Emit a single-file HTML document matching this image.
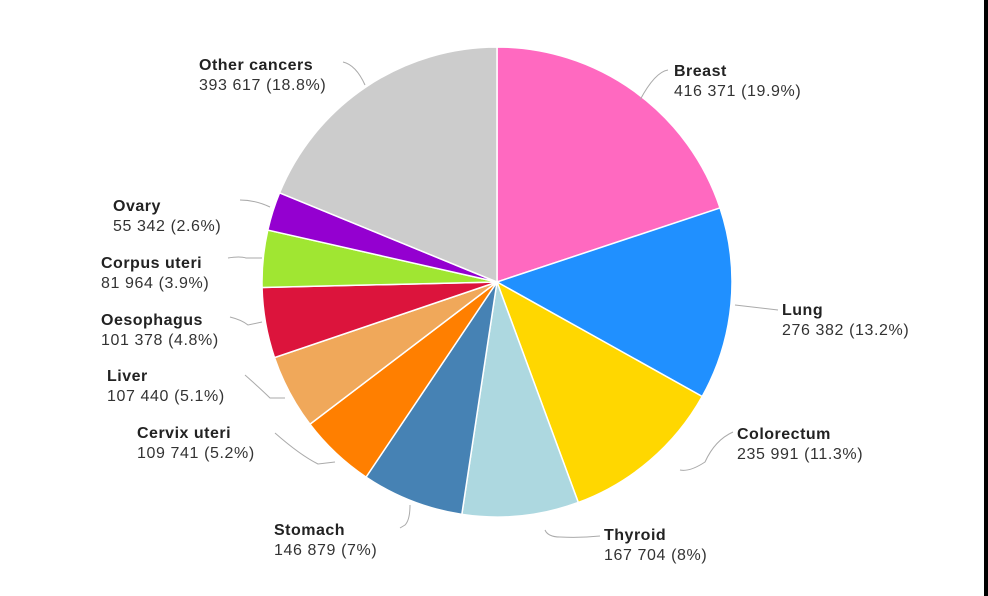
<!DOCTYPE html><html><head><meta charset="utf-8"><style>body{margin:0;background:#fff}svg{display:block}text{font-family:"Liberation Sans",sans-serif;font-size:16px;letter-spacing:0.6px;fill:#333}.b{font-weight:bold;fill:#222;letter-spacing:0.5px}</style></head><body>
<svg id="s" width="988" height="596" viewBox="0 0 988 596">
<rect x="0" y="0" width="988" height="596" fill="#fff"/>
<rect x="984" y="0" width="4" height="596" fill="#000"/>
<g id="p"></g>
<g fill="none" stroke="#aaa" stroke-width="1">
<path d="M668,70 Q655,72 640,100"/>
<path d="M778,310 L735,305"/>
<path d="M733,432 Q715,440 705,462 Q690,472 680,470"/>
<path d="M600,536 Q580,538 560,537 Q548,537 545,530"/>
<path d="M400,528 L405,525 Q410,520 410,505"/>
<path d="M275,433 Q300,455 318,464 L335,462"/>
<path d="M245,375 Q262,390 270,398 L285,398"/>
<path d="M230,317 Q242,320 248,325 L262,322"/>
<path d="M228,258 Q240,256 246,258 L262,258"/>
<path d="M240,200 Q255,200 270,207"/>
<path d="M343,62 Q356,65 365,85"/>
</g>
<text x="674" y="76" class="b">Breast</text><text x="674" y="96">416 371 (19.9%)</text>
<text x="782" y="315" class="b">Lung</text><text x="782" y="335">276 382 (13.2%)</text>
<text x="737" y="439" class="b">Colorectum</text><text x="737" y="459">235 991 (11.3%)</text>
<text x="604" y="540" class="b">Thyroid</text><text x="604" y="560">167 704 (8%)</text>
<text x="274" y="535" class="b">Stomach</text><text x="274" y="555">146 879 (7%)</text>
<text x="137" y="438" class="b">Cervix uteri</text><text x="137" y="458">109 741 (5.2%)</text>
<text x="107" y="381" class="b">Liver</text><text x="107" y="401">107 440 (5.1%)</text>
<text x="101" y="325" class="b">Oesophagus</text><text x="101" y="345">101 378 (4.8%)</text>
<text x="101" y="268" class="b">Corpus uteri</text><text x="101" y="288">81 964 (3.9%)</text>
<text x="113" y="211" class="b">Ovary</text><text x="113" y="231">55 342 (2.6%)</text>
<text x="199" y="70" class="b">Other cancers</text><text x="199" y="90">393 617 (18.8%)</text>
</svg>
<script>
var d=[[416371,"#ff69c0"],[276382,"#2090ff"],[235991,"#ffd700"],[167704,"#add8e0"],[146879,"#4682b4"],[109741,"#ff7f00"],[107440,"#f0a85a"],[101378,"#dc143c"],[81964,"#a0e632"],[55342,"#9400d0"],[393617,"#cccccc"]];
var t=0;d.forEach(function(x){t+=x[0]});var cx=497,cy=282,r=235,a=0,h="";
d.forEach(function(x){var a1=a+x[0]/t*2*Math.PI;var x0=cx+r*Math.sin(a),y0=cy-r*Math.cos(a),x1=cx+r*Math.sin(a1),y1=cy-r*Math.cos(a1);
h+='<path d="M'+cx+','+cy+' L'+x0+','+y0+' A'+r+','+r+' 0 '+(a1-a>Math.PI?1:0)+',1 '+x1+','+y1+' Z" fill="'+x[1]+'" stroke="#fff" stroke-width="1.5"/>';a=a1;});
document.getElementById("p").innerHTML=h;
</script>
</body></html>
